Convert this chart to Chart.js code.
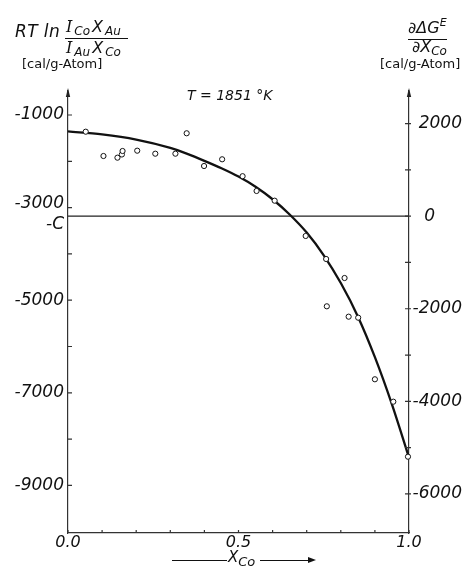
<!DOCTYPE html>
<html><head><meta charset="utf-8">
<script src="https://cdn.jsdelivr.net/npm/chart.js@4.4.1/dist/chart.umd.min.js"></script>
<style>
html,body{margin:0;padding:0;background:#fff;overflow:hidden}
#wrap{position:relative;width:465px;height:570px}
#c{position:absolute;left:0;top:0}
.t{position:absolute;white-space:nowrap;line-height:1;color:#111;font-family:"DejaVu Sans","Liberation Sans",Arial,sans-serif}
.i{font-style:italic}
.s{font-family:"DejaVu Serif","Liberation Serif",serif;font-style:italic}
.bar{position:absolute;height:1.3px;background:#111}
.ah{position:absolute;width:0;height:0;border-top:3px solid transparent;border-bottom:3px solid transparent;border-left:8px solid #111}
.sb{font-size:12px;vertical-align:-3px;line-height:0}
.sp{font-size:11px;vertical-align:7px;line-height:0}
.g{margin-left:2px}
</style></head><body>
<div id="wrap">
<canvas id="c" width="465" height="570"></canvas>
<div class="t i" style="left:15px;top:22.5px;font-size:17px;letter-spacing:0.4px">RT ln</div>
<div class="t i" style="left:66px;top:19px;font-size:16px"><span class="s">I</span><span class="sb g">Co</span><span class="g">X</span><span class="sb g">Au</span></div>
<div class="bar" style="left:65px;top:37.8px;width:63px"></div>
<div class="t i" style="left:66px;top:40px;font-size:16px"><span class="s">I</span><span class="sb g">Au</span><span class="g">X</span><span class="sb g">Co</span></div>
<div class="t" style="left:22px;top:56.5px;font-size:13px">[cal/g-Atom]</div>
<div class="t i" style="left:187px;top:88.3px;font-size:14px">T = 1851 °K</div>
<div class="t i" style="left:408px;top:19.5px;font-size:16px">∂ΔG<span class="sp">E</span></div>
<div class="bar" style="left:408px;top:38.5px;width:39px"></div>
<div class="t i" style="left:412px;top:39px;font-size:16px">∂X<span class="sb">Co</span></div>
<div class="t" style="left:380px;top:56.5px;font-size:13px">[cal/g-Atom]</div>
<div class="bar" style="left:172px;top:559.5px;width:55px;height:1px"></div>
<div class="t i" style="left:228px;top:550.3px;font-size:15px">X<span class="sb" style="font-size:13px;vertical-align:-4px">Co</span></div>
<div class="bar" style="left:260px;top:559.5px;width:50px;height:1px"></div>
<div class="ah" style="left:308px;top:557px"></div>
</div>
<script>
// ---- data ----
const xTicks = [0, 0.1, 0.2, 0.3, 0.4, 0.5, 0.6, 0.7, 0.8, 0.9, 1.0];
const xTickLabels = ['0.0', '', '', '', '', '0.5', '', '', '', '', '1.0'];
const leftTicks = [-9000, -8000, -7000, -6000, -5000, -4000, -3000, -2000, -1000];
const leftTickLabels = ['-9000', '', '-7000', '', '-5000', '', '-3000', '', '-1000'];
const rightTicks = [-6000, -5000, -4000, -3000, -2000, -1000, 0, 1000, 2000];
const rightTickLabels = ['-6000', '', '-4000', '', '-2000', '', '0', '', '2000'];
const cOffset = 3185;            // the constant C (left = right - C)
const yMin = -10028, yMax = -482; // left axis range

const obsX = [0.052, 0.104, 0.145, 0.158, 0.160, 0.203, 0.256, 0.315, 0.348, 0.399, 0.452, 0.512, 0.553, 0.606, 0.697, 0.757, 0.811, 0.759, 0.823, 0.851, 0.900, 0.954, 0.997];
const obsY = [-1361, -1886, -1922, -1853, -1778, -1771, -1836, -1836, -1395, -2102, -1957, -2322, -2641, -2851, -3613, -4110, -4521, -5132, -5356, -5378, -6708, -7192, -8380];

const curveX = [0, 0.1, 0.2, 0.3, 0.35, 0.4, 0.45, 0.5, 0.55, 0.6, 0.65, 0.7, 0.75, 0.8, 0.85, 0.9, 0.95, 1.0];
const curveY = [-1356, -1420, -1530, -1710, -1840, -1990, -2150, -2330, -2550, -2820, -3150, -3540, -4030, -4630, -5350, -6230, -7250, -8400];

const zeroX = [0, 1];
const zeroY = [0, 0];

const FONT = "'DejaVu Sans', 'Liberation Sans', Arial, sans-serif";

const axisMarks = {
  id: 'axisMarks',
  afterDraw(chart) {
    const {ctx, chartArea: a, scales: {x, y, y2}} = chart;
    ctx.save();
    ctx.strokeStyle = '#333';
    ctx.lineWidth = 1.2;
    ctx.beginPath();
    leftTicks.forEach(v => { const p = y.getPixelForValue(v); ctx.moveTo(a.left, p); ctx.lineTo(a.left + 4, p); });
    rightTicks.forEach(v => { const p = y2.getPixelForValue(v); ctx.moveTo(a.right - 4, p); ctx.lineTo(a.right + 2, p); });
    xTicks.forEach(v => { const p = x.getPixelForValue(v); ctx.moveTo(p, a.bottom); ctx.lineTo(p, a.bottom - 3); });
    ctx.stroke();
    ctx.fillStyle = '#222';
    [a.left, a.right].forEach(px => {
      ctx.beginPath();
      ctx.moveTo(px, a.top - 3);
      ctx.lineTo(px - 2.2, a.top + 6);
      ctx.lineTo(px + 2.2, a.top + 6);
      ctx.closePath();
      ctx.fill();
    });
    ctx.restore();
  }
};

new Chart(document.getElementById('c'), {
  type: 'scatter',
  data: {
    datasets: [
      {
        label: 'measured',
        data: obsX.map((x, i) => ({x, y: obsY[i]})),
        yAxisID: 'y',
        showLine: false,
        pointRadius: 2.6,
        pointBorderWidth: 1,
        pointBorderColor: '#111',
        pointBackgroundColor: '#fff',
        clip: false
      },
      {
        label: 'fit',
        type: 'line',
        data: curveX.map((x, i) => ({x, y: curveY[i]})),
        yAxisID: 'y',
        borderColor: '#111',
        borderWidth: 2.3,
        pointRadius: 0,
        cubicInterpolationMode: 'monotone',
        fill: false
      },
      {
        label: 'zero',
        type: 'line',
        data: zeroX.map((x, i) => ({x, y: zeroY[i]})),
        yAxisID: 'y2',
        borderColor: '#222',
        borderWidth: 1.3,
        pointRadius: 0,
        fill: false
      }
    ]
  },
  options: {
    responsive: false,
    animation: false,
    devicePixelRatio: 1,
    layout: {padding: {top: 91, right: 3, bottom: 0, left: 0}},
    plugins: {legend: {display: false}, tooltip: {enabled: false}},
    scales: {
      x: {
        type: 'linear', position: 'bottom', min: 0, max: 1,
        afterFit: s => { s.height = 37; },
        afterBuildTicks: s => { s.ticks = xTicks.map(v => ({value: v})); },
        grid: {display: true, drawOnChartArea: false, drawTicks: false},
        border: {display: true, color: '#333', width: 1.2},
        ticks: {
          padding: 0, autoSkip: false, maxRotation: 0, color: '#111',
          font: {family: FONT, size: 16, style: 'italic'},
          callback: (v, i) => xTickLabels[i]
        }
      },
      y: {
        type: 'linear', position: 'left', min: yMin, max: yMax,
        afterFit: s => { s.width = 68; },
        afterBuildTicks: s => {
          s.ticks = leftTicks.concat([-cOffset]).sort((a, b) => a - b).map(v => ({value: v}));
        },
        grid: {display: true, drawOnChartArea: false, drawTicks: false},
        border: {display: true, color: '#333', width: 1.2},
        ticks: {
          padding: 4, autoSkip: false, color: '#111',
          font: c => ({family: FONT, size: 17, style: 'italic',
            lineHeight: (c.tick && c.tick.value === -3000) ? 0.5 : 1.0}),
          callback: v => {
            if (v === -cOffset) return ['', '-C'];
            const s = leftTickLabels[leftTicks.indexOf(v)];
            return v === -3000 ? [s, ''] : s;
          }
        }
      },
      y2: {
        type: 'linear', position: 'right', min: yMin + cOffset, max: yMax + cOffset,
        afterFit: s => { s.width = 53; },
        afterBuildTicks: s => { s.ticks = rightTicks.map(v => ({value: v})); },
        grid: {display: true, drawOnChartArea: false, drawTicks: false},
        border: {display: true, color: '#333', width: 1.2},
        ticks: {
          crossAlign: 'far', padding: 4, autoSkip: false, color: '#111',
          font: {family: FONT, size: 17, style: 'italic'},
          callback: v => {
            const s = rightTickLabels[rightTicks.indexOf(v)];
            return v === 0 ? s + '     ' : s;
          }
        }
      }
    }
  },
  plugins: [axisMarks]
});
</script>
</body></html>
